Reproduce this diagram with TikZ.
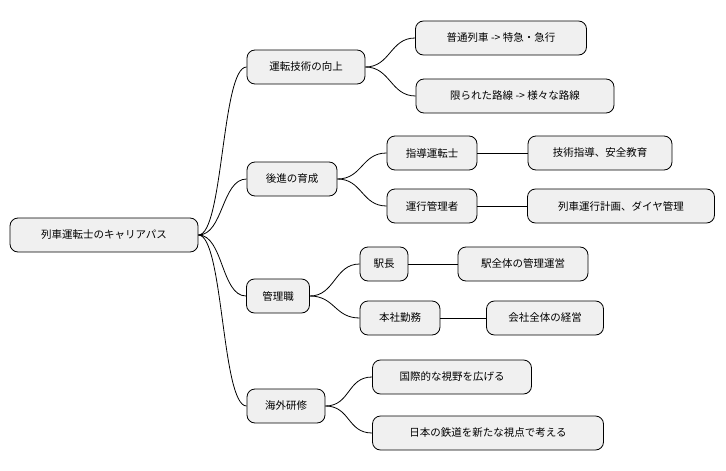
\documentclass[tikz,border=0pt]{standalone}
\usepackage{fontspec}
\setmainfont{Noto Sans CJK JP}
\begin{document}
\begin{tikzpicture}[x=1pt,y=-1pt,
  box/.style={draw=black,line width=0.8pt,fill=black!6,rounded corners=8pt,minimum height=34pt,inner sep=0pt,font=\fontsize{10.5pt}{12pt}\selectfont},
  ln/.style={line width=0.8pt}]
\useasboundingbox (0,0) rectangle (726,471);
\newcommand\nd[5]{\node[box,minimum width=#4pt] (#1) at (#2,#3) {#5};}
\nd{r}{104}{235}{188}{列車運転士のキャリアパス}
\nd{a}{306}{67}{118}{運転技術の向上}
\nd{a1}{501}{38}{171}{普通列車 -> 特急・急行}
\nd{a2}{515}{96}{198}{限られた路線 -> 様々な路線}
\nd{b}{292}{179}{90}{後進の育成}
\nd{b1}{432}{153}{90}{指導運転士}
\nd{b1x}{600}{153}{144}{技術指導、安全教育}
\nd{b2}{432}{206}{90}{運行管理者}
\nd{b2x}{621}{206}{187}{列車運行計画、ダイヤ管理}
\nd{c}{278}{296}{63}{管理職}
\nd{c1}{384}{264}{48}{駅長}
\nd{c1x}{523}{264}{130}{駅全体の管理運営}
\nd{c2}{400}{318}{80}{本社勤務}
\nd{c2x}{545}{318}{117}{会社全体の経営}
\nd{d}{286}{406}{78}{海外研修}
\nd{d1}{452}{377}{159}{国際的な視野を広げる}
\nd{d2}{488}{433}{231}{日本の鉄道を新たな視点で考える}
\foreach \p/\c in {r/a,r/b,r/c,r/d,a/a1,a/a2,b/b1,b/b2,c/c1,c/c2,d/d1,d/d2}
  \draw[ln] (\p.east) .. controls +(25,0) and +(-25,0) .. (\c.west);
\foreach \p/\c in {b1/b1x,b2/b2x,c1/c1x,c2/c2x}
  \draw[ln] (\p.east) -- (\c.west);
\end{tikzpicture}
\end{document}
